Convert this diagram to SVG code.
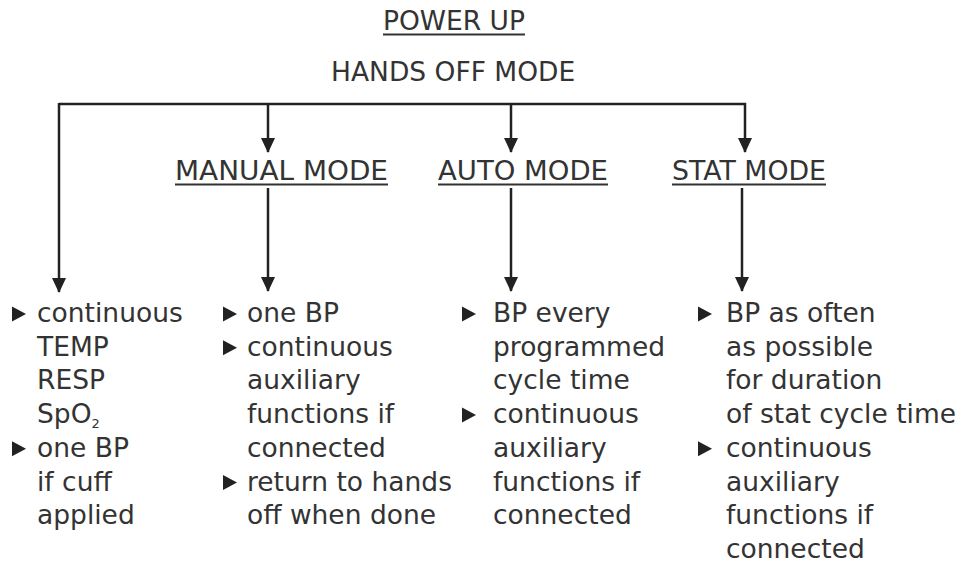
<svg xmlns="http://www.w3.org/2000/svg" width="967" height="562" viewBox="0 0 967 562">
<defs>
<style>
text{font-family:"DejaVu Sans","Liberation Sans",sans-serif;font-size:26.5px;fill:#333}
.ul{stroke:#333;stroke-width:2}
.cn{stroke:#222;stroke-width:2.5;fill:none}
.bl{fill:#222}
</style>
<marker id="ah" viewBox="0 0 15 14" refX="14" refY="7" markerWidth="15" markerHeight="14" markerUnits="userSpaceOnUse" orient="auto">
<path d="M0,0 L15,7 L0,14 Z" fill="#222"/>
</marker>
<path id="bul" d="M0,-7.5 L14,0 L0,7.5 Z" class="bl"/>
</defs>
<rect width="967" height="562" fill="#fff"/>

<g id="power-up">
<text x="383" y="30">POWER UP</text>
<line class="ul" x1="383" y1="34.5" x2="525" y2="34.5"/>
</g>
<g id="hands-off">
<text x="331" y="81">HANDS OFF MODE</text>
</g>
<g id="manual-mode">
<text x="175" y="180" textLength="213" lengthAdjust="spacingAndGlyphs">MANUAL MODE</text>
<line class="ul" x1="175" y1="184.5" x2="388" y2="184.5"/>
</g>
<g id="auto-mode">
<text x="438" y="180" textLength="170" lengthAdjust="spacingAndGlyphs">AUTO MODE</text>
<line class="ul" x1="438" y1="184.5" x2="608" y2="184.5"/>
</g>
<g id="stat-mode">
<text x="672" y="180" textLength="154" lengthAdjust="spacingAndGlyphs">STAT MODE</text>
<line class="ul" x1="672" y1="184.5" x2="826" y2="184.5"/>
</g>

<g id="connectors">
<path class="cn" d="M59,104 L745,104 L745,152" marker-end="url(#ah)"/>
<path class="cn" d="M59,103 L59,292" marker-end="url(#ah)"/>
<path class="cn" d="M268,104 L268,152" marker-end="url(#ah)"/>
<path class="cn" d="M511,104 L511,152" marker-end="url(#ah)"/>
<path class="cn" d="M268,188 L268,291" marker-end="url(#ah)"/>
<path class="cn" d="M511,188 L511,291" marker-end="url(#ah)"/>
<path class="cn" d="M742,188 L742,291" marker-end="url(#ah)"/>
</g>

<g id="hands-off-list">
<use href="#bul" x="12" y="314"/>
<text x="37" y="322">continuous</text>
<text x="37" y="355.7">TEMP</text>
<text x="37" y="389.4">RESP</text>
<text x="37" y="423.1">SpO<tspan font-size="13" dy="5">2</tspan></text>
<use href="#bul" x="12" y="448.8"/>
<text x="37" y="456.8">one BP</text>
<text x="37" y="490.5">if cuff</text>
<text x="37" y="524.2">applied</text>
</g>

<g id="manual-list">
<use href="#bul" x="223" y="314"/>
<text x="247" y="322">one BP</text>
<use href="#bul" x="223" y="347.7"/>
<text x="247" y="355.7">continuous</text>
<text x="247" y="389.4">auxiliary</text>
<text x="247" y="423.1">functions if</text>
<text x="247" y="456.8">connected</text>
<use href="#bul" x="223" y="482.5"/>
<text x="247" y="490.5">return to hands</text>
<text x="247" y="524.2">off when done</text>
</g>

<g id="auto-list">
<use href="#bul" x="462" y="314"/>
<text x="493" y="322">BP every</text>
<text x="493" y="355.7">programmed</text>
<text x="493" y="389.4">cycle time</text>
<use href="#bul" x="462" y="415.1"/>
<text x="493" y="423.1">continuous</text>
<text x="493" y="456.8">auxiliary</text>
<text x="493" y="490.5">functions if</text>
<text x="493" y="524.2">connected</text>
</g>

<g id="stat-list">
<use href="#bul" x="698" y="314"/>
<text x="726" y="322">BP as often</text>
<text x="726" y="355.7">as possible</text>
<text x="726" y="389.4">for duration</text>
<text x="726" y="423.1">of stat cycle time</text>
<use href="#bul" x="698" y="448.8"/>
<text x="726" y="456.8">continuous</text>
<text x="726" y="490.5">auxiliary</text>
<text x="726" y="524.2">functions if</text>
<text x="726" y="557.9">connected</text>
</g>
</svg>
